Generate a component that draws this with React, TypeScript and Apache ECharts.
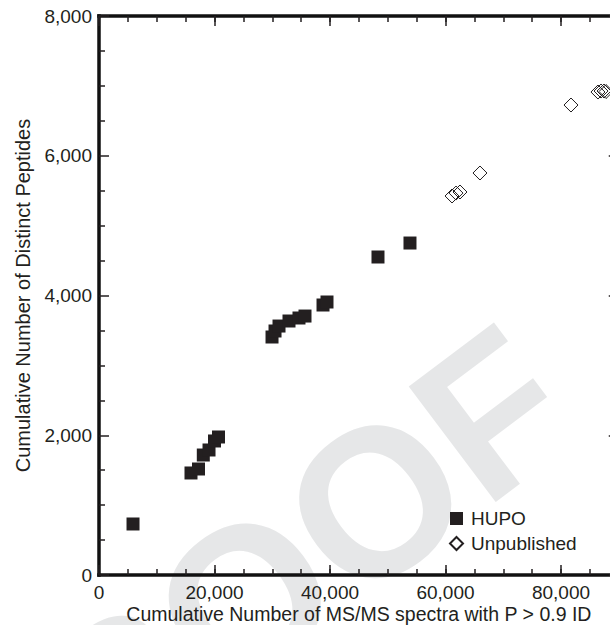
import React, { useEffect, useRef } from "react";
import * as echarts from "echarts";

const hupoX = [5890, 15930, 17230, 18060, 19050, 20000, 20690, 29960, 30480, 31170, 32900, 34630, 35670, 38790, 39480, 48310, 53850];
const hupoY = [730, 1460, 1517, 1717, 1789, 1918, 1975, 3406, 3492, 3563, 3635, 3678, 3706, 3864, 3907, 4551, 4751];
const unpubX = [61130, 61820, 62510, 65970, 81730, 86400, 86930, 87450, 87800];
const unpubY = [5424, 5466, 5481, 5753, 6726, 6912, 6926, 6926, 6919];

const xTitle = "Cumulative Number of MS/MS spectra with P > 0.9 ID";
const yTitle = "Cumulative Number of Distinct Peptides";
const legendNames = ["HUPO", "Unpublished"];
const watermark = "PROOF";

const INK = "#231f20";
const AXIS = "#111111";
const FONT = "Liberation Sans, Arial, Helvetica, sans-serif";

export default function App() {
  const ref = useRef<HTMLDivElement>(null);
  useEffect(() => {
    if (!ref.current) return;
    const chart = echarts.init(ref.current, null, { renderer: "svg" });
    const fmt = (v: number) => v.toLocaleString("en-US");
    const tickStyle = { color: INK, width: 1.5, opacity: 1 };
    const baseX = (pos: string, major: boolean, labels: boolean) => ({
      type: "value",
      position: pos,
      min: 0,
      max: 90000,
      interval: major ? 20000 : 5000,
      axisLine: { show: major, onZero: false, lineStyle: { color: AXIS, width: 3.5, cap: "square" } },
      axisTick: { show: true, inside: true, length: major ? 10 : 6, lineStyle: tickStyle },
      axisLabel: {
        show: labels,
        margin: 7,
        fontSize: 19,
        lineHeight: 20,
        color: INK,
        fontFamily: FONT,
        showMaxLabel: false,
        formatter: fmt,
      },
      splitLine: { show: false },
      ...(labels
        ? {
            name: xTitle,
            nameLocation: "middle",
            nameGap: 29,
            nameMoveOverlap: false,
            nameTextStyle: { fontSize: 19.5, lineHeight: 20, color: INK, fontFamily: FONT },
          }
        : {}),
    });
    const baseY = (pos: string, labels: boolean) => ({
      type: "value",
      position: pos,
      min: 0,
      max: 8000,
      interval: 2000,
      axisLine: { show: true, onZero: false, lineStyle: { color: AXIS, width: 3.5, cap: "square" } },
      axisTick: { show: true, inside: true, length: 10, lineStyle: tickStyle },
      minorTick: { show: true, splitNumber: 4, length: 6, lineStyle: tickStyle },
      axisLabel: { show: labels, margin: 7, fontSize: 19, color: INK, fontFamily: FONT, formatter: fmt },
      splitLine: { show: false },
      minorSplitLine: { show: false },
      ...(labels
        ? {
            name: yTitle,
            nameLocation: "middle",
            nameGap: 66,
            nameMoveOverlap: false,
            nameTextStyle: { fontSize: 20, color: INK, fontFamily: FONT },
          }
        : {}),
    });
    chart.setOption({
      animation: false,
      backgroundColor: "#ffffff",
      grid: {
        left: 99,
        right: -8.75,
        top: 16,
        bottom: 50,
        outerBoundsMode: "none",
        show: false,
      },
      graphic: [
        {
          type: "text",
          x: 245,
          y: 600,
          rotation: (37 * Math.PI) / 180,
          z: -10,
          silent: true,
          style: {
            text: watermark,
            fontSize: 210,
            fontWeight: "bold",
            fontFamily: FONT,
            fill: "#e6e7e8",
            align: "center",
            verticalAlign: "middle",
          },
        },
      ],
      legend: {
        data: legendNames,
        orient: "vertical",
        left: 444,
        top: 504,
        itemWidth: 13,
        itemHeight: 13,
        itemGap: 6,
        textStyle: { fontSize: 19, color: INK, fontFamily: FONT, padding: [0, 0, 0, 3] },
      },
      xAxis: [baseX("bottom", true, true), baseX("bottom", false, false), baseX("top", true, false), baseX("top", false, false)],
      yAxis: [baseY("left", true), baseY("right", false)],
      series: [
        {
          type: "scatter",
          name: legendNames[0],
          xAxisIndex: 0,
          yAxisIndex: 0,
          symbol: "rect",
          symbolSize: 13,
          itemStyle: { color: INK, opacity: 1 },
          data: hupoX.map((x, i) => [x, hupoY[i]]),
        },
        {
          type: "scatter",
          name: legendNames[1],
          xAxisIndex: 0,
          yAxisIndex: 0,
          symbol: "diamond",
          symbolSize: 14,
          itemStyle: { color: "rgba(255,255,255,0)", borderColor: INK, borderWidth: 1, opacity: 1 },
          data: unpubX.map((x, i) => [x, unpubY[i]]),
        },
      ],
    });
    return () => chart.dispose();
  }, []);
  return <div ref={ref} style={{ position: "absolute", left: 0, top: 0, width: 610, height: 625 }} />;
}
